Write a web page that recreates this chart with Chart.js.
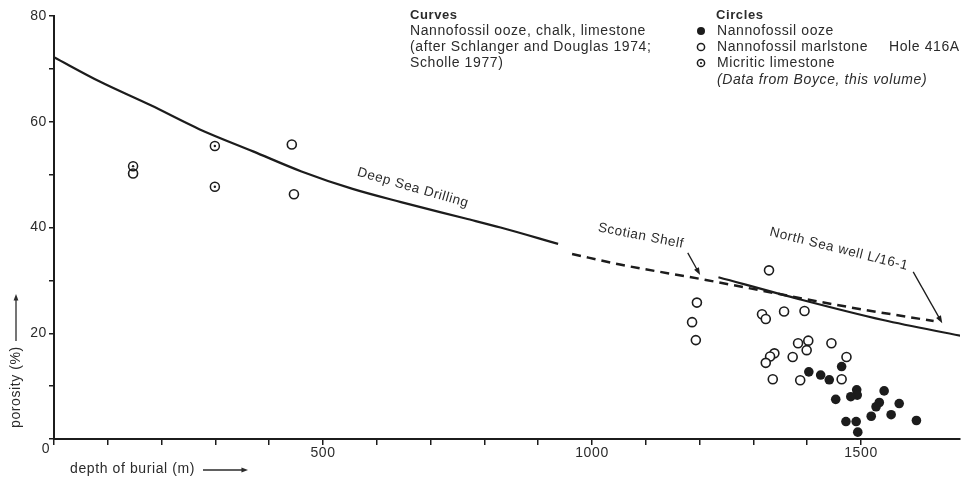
<!DOCTYPE html>
<html>
<head>
<meta charset="utf-8">
<script src="https://cdn.jsdelivr.net/npm/chart.js@4.4.1/dist/chart.umd.min.js"></script>
<style>
  html, body { margin: 0; padding: 0; background: #fff; }
  #wrap { width: 961px; height: 477px; position: relative; }
</style>
</head>
<body>
<div id="wrap"><canvas id="porosity-chart"></canvas></div>
<script>
// Curves (depth of burial in m, porosity in %)
const dsdDepth = [0, 85, 180, 270, 370, 460, 555, 645, 765, 830, 937];
const dsdPorosity = [72.2, 67.6, 63.1, 58.6, 54.4, 50.6, 47.3, 44.8, 41.7, 40.0, 36.9];
const scotianDepth = [963, 1052, 1200, 1480, 1635];
const scotianPorosity = [35.0, 33.0, 30.3, 24.9, 22.3];
const northSeaDepth = [1235, 1387, 1541, 1686];
const northSeaPorosity = [30.6, 26.4, 22.5, 19.5];

// Circles, Hole 416A
const oozeDepth = [1464, 1403, 1425, 1441, 1492, 1493, 1481, 1453, 1543, 1534, 1528, 1571, 1556, 1519, 1603, 1472, 1491, 1494];
const oozePorosity = [13.7, 12.7, 12.1, 11.2, 9.3, 8.3, 8.0, 7.5, 9.1, 6.9, 6.1, 6.7, 4.6, 4.3, 3.5, 3.3, 3.3, 1.3];
const marlDepth = [147, 442, 446, 1329, 1195, 1186, 1193, 1316, 1323, 1357, 1395, 1383, 1402, 1399, 1445, 1339, 1331, 1323, 1373, 1473, 1336, 1387, 1464];
const marlPorosity = [50.2, 55.7, 46.3, 31.9, 25.8, 22.1, 18.7, 23.6, 22.7, 24.1, 24.2, 18.1, 18.6, 16.8, 18.1, 16.2, 15.6, 14.4, 15.5, 15.5, 11.3, 11.1, 11.3];
const micriticDepth = [147, 299, 299];
const micriticPorosity = [51.6, 55.4, 47.7];

// Tick labels
const xTickLabels = [500, 1000, 1500];
const yTickLabels = [20, 40, 60, 80];

const ink = '#1c1c1c';
const txt = '#2b2b2b';
const font = '"Liberation Sans", Arial, sans-serif';

function pts(xs, ys) {
    return xs.map((x, i) => ({ x: x, y: ys[i] }));
}

// labels and arrows on the curves, in data units
const curveLabels = [
    { text: 'Deep Sea Drilling', x: 667, y: 47.5, angle: 16 },
    { text: 'Scotian Shelf', x: 1091, y: 38.4, angle: 11 },
    { text: 'North Sea well L/16-1', x: 1459, y: 35.9, angle: 14 }
];
const curveArrows = [
    { from: [1178, 35.2], to: [1201, 31.0] },
    { from: [1597, 31.6], to: [1651, 21.9] }
];

function arrow(ctx, x1, y1, x2, y2, head) {
    const a = Math.atan2(y2 - y1, x2 - x1);
    ctx.beginPath();
    ctx.moveTo(x1, y1);
    ctx.lineTo(x2 - Math.cos(a) * head * 0.8, y2 - Math.sin(a) * head * 0.8);
    ctx.stroke();
    ctx.beginPath();
    ctx.moveTo(x2, y2);
    ctx.lineTo(x2 - head * Math.cos(a - 0.35), y2 - head * Math.sin(a - 0.35));
    ctx.lineTo(x2 - head * Math.cos(a + 0.35), y2 - head * Math.sin(a + 0.35));
    ctx.closePath();
    ctx.fill();
}

const textPlugin = {
    id: 'textPlugin',
    beforeDraw(chart) {
        chart.ctx.letterSpacing = '0.6px';
    },
    afterDraw(chart) {
        const ctx = chart.ctx;
        const xs = chart.scales.x, ys = chart.scales.y;
        ctx.save();
        ctx.letterSpacing = '0.6px';
        ctx.fillStyle = txt;
        ctx.strokeStyle = txt;
        ctx.lineWidth = 1.3;

        // shared origin label
        ctx.font = '14px ' + font;
        ctx.textAlign = 'center';
        ctx.textBaseline = 'middle';
        ctx.fillText('0', 46, 449);

        // axis titles
        ctx.textAlign = 'left';
        ctx.fillText('depth of burial (m)', 70, 469);
        arrow(ctx, 203, 470, 248, 470, 7);

        ctx.save();
        ctx.translate(16, 428);
        ctx.rotate(-Math.PI / 2);
        ctx.fillText('porosity (%)', 0, 0);
        ctx.restore();
        arrow(ctx, 16, 341, 16, 294, 7);

        // curve labels
        ctx.font = '13.5px ' + font;
        ctx.textAlign = 'center';
        curveLabels.forEach(l => {
            ctx.save();
            ctx.translate(xs.getPixelForValue(l.x), ys.getPixelForValue(l.y));
            ctx.rotate(l.angle * Math.PI / 180);
            ctx.fillText(l.text, 0, 0);
            ctx.restore();
        });
        ctx.strokeStyle = ink;
        ctx.fillStyle = ink;
        curveArrows.forEach(a => {
            arrow(ctx, xs.getPixelForValue(a.from[0]), ys.getPixelForValue(a.from[1]),
                xs.getPixelForValue(a.to[0]), ys.getPixelForValue(a.to[1]), 8);
        });

        // legend: curves
        ctx.fillStyle = txt;
        ctx.textAlign = 'left';
        ctx.font = 'bold 13px ' + font;
        ctx.fillText('Curves', 410, 15);
        ctx.font = '14px ' + font;
        ctx.fillText('Nannofossil ooze, chalk, limestone', 410, 31);
        ctx.fillText('(after Schlanger and Douglas 1974;', 410, 47);
        ctx.fillText('Scholle 1977)', 410, 63);

        // legend: circles
        ctx.font = 'bold 13px ' + font;
        ctx.fillText('Circles', 716, 15);
        ctx.font = '14px ' + font;
        ctx.fillText('Nannofossil ooze', 717, 31);
        ctx.fillText('Nannofossil marlstone', 717, 47);
        ctx.fillText('Hole 416A', 889, 47);
        ctx.fillText('Micritic limestone', 717, 63);
        ctx.font = 'italic 14px ' + font;
        ctx.fillText('(Data from Boyce, this volume)', 717, 80);

        ctx.lineWidth = 1.5;
        ctx.strokeStyle = ink;
        ctx.fillStyle = ink;
        ctx.beginPath(); ctx.arc(701, 31, 4, 0, Math.PI * 2); ctx.fill();
        ctx.beginPath(); ctx.arc(701, 47, 3.6, 0, Math.PI * 2); ctx.stroke();
        ctx.beginPath(); ctx.arc(701, 63, 3.6, 0, Math.PI * 2); ctx.stroke();
        ctx.beginPath(); ctx.arc(701, 63, 1.1, 0, Math.PI * 2); ctx.fill();
        ctx.restore();
    }
};

const chartCanvas = document.getElementById('porosity-chart');

const porosityChart = new Chart(chartCanvas, {
    type: 'scatter',
    data: {
        datasets: [
            {
                label: 'Micritic limestone dot',
                data: pts(micriticDepth, micriticPorosity),
                pointRadius: 1.2,
                backgroundColor: ink,
                borderWidth: 0
            },
            {
                label: 'Micritic limestone',
                data: pts(micriticDepth, micriticPorosity),
                pointRadius: 4.5,
                backgroundColor: 'rgba(255,255,255,0)',
                borderColor: ink,
                borderWidth: 1.5
            },
            {
                label: 'Nannofossil marlstone',
                data: pts(marlDepth, marlPorosity),
                pointRadius: 4.5,
                backgroundColor: '#fff',
                borderColor: ink,
                borderWidth: 1.6
            },
            {
                label: 'Nannofossil ooze',
                data: pts(oozeDepth, oozePorosity),
                pointRadius: 4.8,
                backgroundColor: ink,
                borderColor: ink,
                borderWidth: 0
            },
            {
                label: 'Deep Sea Drilling',
                type: 'line',
                data: pts(dsdDepth, dsdPorosity),
                borderColor: ink,
                borderWidth: 2.2,
                pointRadius: 0,
                cubicInterpolationMode: 'monotone',
                fill: false
            },
            {
                label: 'Scotian Shelf',
                type: 'line',
                data: pts(scotianDepth, scotianPorosity),
                borderColor: ink,
                borderWidth: 2.5,
                borderDash: [9, 6],
                pointRadius: 0,
                cubicInterpolationMode: 'monotone',
                fill: false
            },
            {
                label: 'North Sea well L/16-1',
                type: 'line',
                data: pts(northSeaDepth, northSeaPorosity),
                borderColor: ink,
                borderWidth: 2.2,
                pointRadius: 0,
                cubicInterpolationMode: 'monotone',
                fill: false
            }
        ]
    },
    options: {
        responsive: true,
        maintainAspectRatio: false,
        animation: false,
        layout: { autoPadding: false, padding: { left: 0, top: 16, right: 1, bottom: 0 } },
        plugins: {
            legend: { display: false },
            tooltip: { enabled: false }
        },
        scales: {
            x: {
                type: 'linear',
                min: 0,
                max: 1684,
                afterFit: scale => {
                    scale.height = 38;
                    scale.paddingLeft = 0;
                    scale.paddingRight = 0;
                },
                afterBuildTicks: scale => {
                    scale.ticks = scale.ticks.filter(t => t.value % 100 === 0);
                },
                border: { display: true, color: ink, width: 2 },
                grid: { display: true, drawOnChartArea: false, drawTicks: true, tickLength: 6, color: ink, lineWidth: 1.5 },
                ticks: {
                    stepSize: 100,
                    autoSkip: false,
                    maxRotation: 0,
                    padding: 0,
                    color: txt,
                    font: { family: font, size: 14 },
                    callback: v => xTickLabels.includes(v) ? String(v) : ''
                }
            },
            y: {
                type: 'linear',
                min: 0,
                max: 80,
                afterFit: scale => {
                    scale.width = 54;
                    scale.paddingTop = 0;
                    scale.paddingBottom = 0;
                },
                border: { display: true, color: ink, width: 2 },
                grid: { display: true, drawOnChartArea: false, drawTicks: true, tickLength: 5, color: ink, lineWidth: 1.5 },
                ticks: {
                    stepSize: 10,
                    autoSkip: false,
                    padding: 2,
                    color: txt,
                    font: { family: font, size: 14 },
                    callback: v => yTickLabels.includes(v) ? String(v) : ''
                }
            }
        }
    },
    plugins: [textPlugin]
});
</script>
</body>
</html>
